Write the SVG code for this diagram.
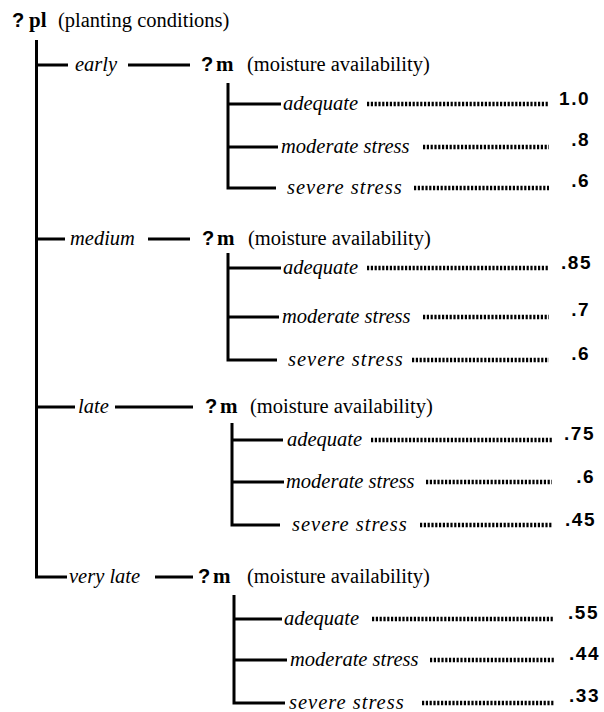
<svg xmlns="http://www.w3.org/2000/svg" width="604" height="712" viewBox="0 0 604 712">
<style>
.ln{stroke:#000;stroke-width:3;fill:none}
.dot{stroke:#000;stroke-width:4.5;stroke-dasharray:2.2 1.6;fill:none}
.t{font-family:"Liberation Serif",serif;font-size:20.5px;fill:#000}
.it{font-family:"Liberation Serif",serif;font-size:20.5px;font-style:italic;fill:#000}
.sv{letter-spacing:1px}
.b{font-family:"Liberation Serif",serif;font-size:21px;font-weight:bold;fill:#000}
.q{font-family:"Liberation Sans",sans-serif;font-size:20px;font-weight:bold;fill:#000}
.v{font-family:"Liberation Sans",sans-serif;font-size:19px;font-weight:bold;letter-spacing:1.5px;fill:#000;text-anchor:end}
</style>
<rect width="604" height="712" fill="#fff"/>
<g id="root">
<text x="12" y="27"><tspan class="q">?</tspan><tspan class="b" x="29">pl</tspan><tspan class="t" x="58">(planting conditions)</tspan></text>
</g>
<g id="connectors">
<path class="ln" d="M36.5 40V577H67"/>
<path class="ln" d="M36.5 65H68M128 65H190"/>
<path class="ln" d="M36.5 239H65M148 239H190"/>
<path class="ln" d="M36.5 407H75M115 407H193"/>
<path class="ln" d="M155 577H193"/>
<path class="ln" d="M228 83V188H276M228 104H281M228 147H278"/>
<path class="ln" d="M228 253V360H277M228 268H281M228 317H279"/>
<path class="ln" d="M232 423V525H280M232 440H283M232 482H284"/>
<path class="ln" d="M234 595V703H285M234 619H282M234 660H287"/>
<path class="dot" d="M367 104H549M423 147H549M414 188H549"/>
<path class="dot" d="M367 268H549M423 317H549M412 360H549"/>
<path class="dot" d="M371 440H552M426 482H552M420 525H552"/>
<path class="dot" d="M372 619H554M430 660H554M422 703H554"/>
</g>
<g id="early">
<text class="it" x="75" y="71">early</text>
<text y="71"><tspan class="q" x="201">?</tspan><tspan class="b" x="216">m</tspan><tspan class="t" x="247">(moisture availability)</tspan></text>
<text class="it" x="283" y="110">adequate</text>
<text class="it" x="281" y="153">moderate stress</text>
<text class="it sv" x="287" y="194">severe stress</text>
<text class="v" x="590" y="105">1.0</text>
<text class="v" x="590" y="146">.8</text>
<text class="v" x="590" y="187">.6</text>
</g>
<g id="medium">
<text class="it" x="70" y="245">medium</text>
<text y="245"><tspan class="q" x="202">?</tspan><tspan class="b" x="217">m</tspan><tspan class="t" x="248">(moisture availability)</tspan></text>
<text class="it" x="283" y="274">adequate</text>
<text class="it" x="282" y="323">moderate stress</text>
<text class="it sv" x="288" y="366">severe stress</text>
<text class="v" x="592" y="269">.85</text>
<text class="v" x="590" y="316">.7</text>
<text class="v" x="590" y="360">.6</text>
</g>
<g id="late">
<text class="it" x="78" y="413">late</text>
<text y="413"><tspan class="q" x="205">?</tspan><tspan class="b" x="220">m</tspan><tspan class="t" x="250">(moisture availability)</tspan></text>
<text class="it" x="287" y="446">adequate</text>
<text class="it" x="286" y="488">moderate stress</text>
<text class="it sv" x="292" y="531">severe stress</text>
<text class="v" x="595" y="440">.75</text>
<text class="v" x="595" y="483">.6</text>
<text class="v" x="596" y="526">.45</text>
</g>
<g id="very-late">
<text class="it" x="69" y="583">very late</text>
<text y="583"><tspan class="q" x="198">?</tspan><tspan class="b" x="213">m</tspan><tspan class="t" x="247">(moisture availability)</tspan></text>
<text class="it" x="284" y="625">adequate</text>
<text class="it" x="290" y="666">moderate stress</text>
<text class="it sv" x="289" y="709">severe stress</text>
<text class="v" x="599" y="619">.55</text>
<text class="v" x="600" y="660">.44</text>
<text class="v" x="600" y="702">.33</text>
</g>
</svg>
